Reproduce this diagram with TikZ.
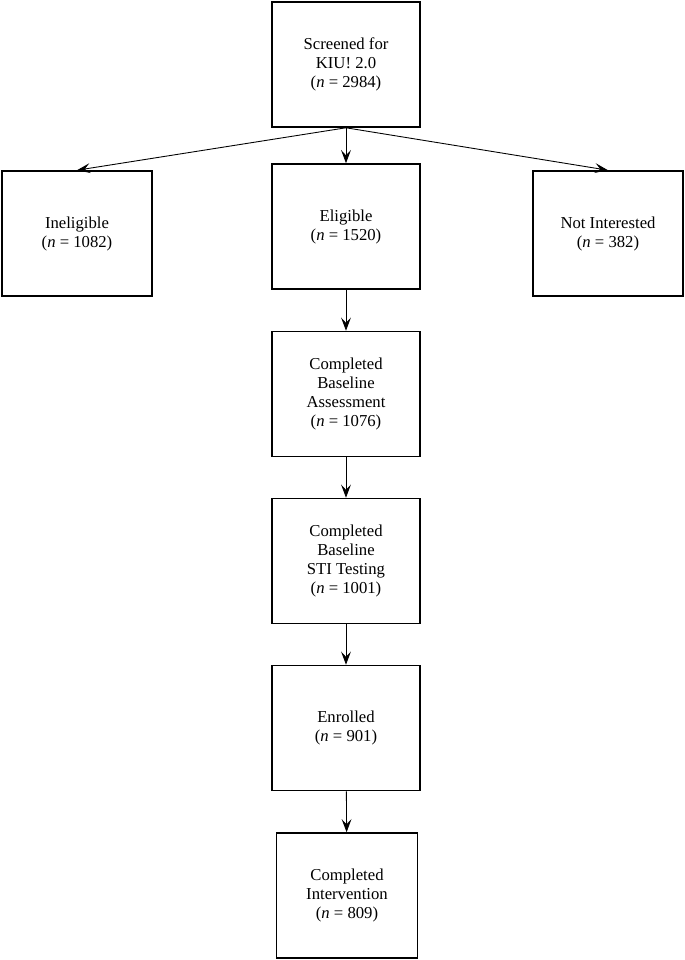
\documentclass[tikz,border=0pt]{standalone}
\usepackage{fontspec}
\setmainfont{Liberation Serif}
\usepackage{tikz}
\usetikzlibrary{calc,arrows.meta}
\tikzset{>={Stealth[length=7.5pt,width=5.6pt,inset=3pt]}}

\begin{document}
\begin{tikzpicture}[x=0.02cm,y=-0.02cm,
  box/.style={draw,line width=0.9pt,align=center,font=\fontsize{9.5}{10.8}\selectfont,
    minimum width=2.96cm,minimum height=2.5cm,inner sep=0pt},
  flow/.style={->,line width=0.5pt}]
  \useasboundingbox (0,0) rectangle (685,960);

  \node[box] at (346,64.5)  (screen) {Screened for\\KIU! 2.0\\(\textit{n} = 2984)};
  \node[box,minimum width=3cm] at (77,233.5)  (inelig) {Ineligible\\(\textit{n} = 1082)};
  \node[box] at (346,226.5) (elig)   {Eligible\\(\textit{n} = 1520)};
  \node[box,minimum width=3cm] at (608,233.5) (notint) {Not Interested\\(\textit{n} = 382)};
  \node[box] at (346,394)   (assess) {Completed\\Baseline\\Assessment\\(\textit{n} = 1076)};
  \node[box] at (346,561)   (sti)    {Completed\\Baseline\\STI Testing\\(\textit{n} = 1001)};
  \node[box] at (346,728)   (enrol)  {Enrolled\\(\textit{n} = 901)};
  \node[box,minimum width=2.82cm] at (347,895.5) (interv) {Completed\\Intervention\\(\textit{n} = 809)};

  \draw[flow] (screen.south) -- (inelig.north);
  \draw[flow] (screen.south) -- (elig.north);
  \draw[flow] (screen.south) -- (notint.north);
  \draw[flow] (elig) -- (assess);
  \draw[flow] (assess) -- (sti);
  \draw[flow] (sti) -- (enrol);
  \draw[flow] (enrol) -- (interv);
\end{tikzpicture}
\end{document}
